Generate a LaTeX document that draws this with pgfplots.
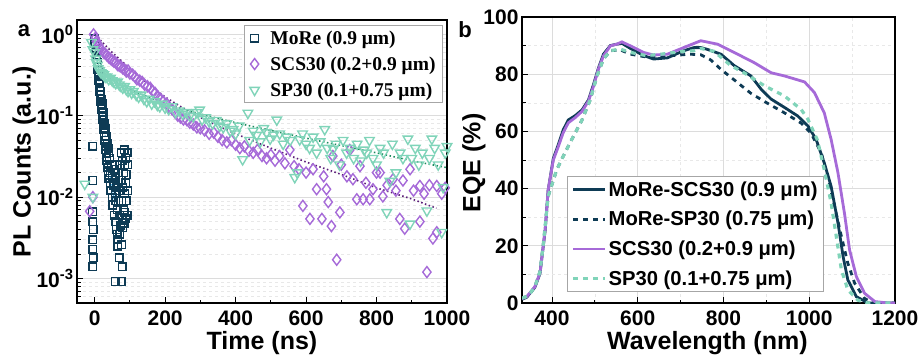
\documentclass[border=0pt]{standalone}
\usepackage{fontspec}
\setmainfont{Liberation Sans}
\newfontfamily\timesf{Liberation Serif}
\usepackage{pgfplots}
\pgfplotsset{compat=1.18}
\definecolor{navy}{HTML}{0E3B55}
\definecolor{purp}{HTML}{A66AD8}
\definecolor{teal2}{HTML}{80D4B9}
\definecolor{fitpurp}{HTML}{5A1C78}
\definecolor{fitgreen}{HTML}{1B8A5C}
\definecolor{fitblue}{HTML}{4FB3E8}
\definecolor{gridmaj}{HTML}{DCDCDC}
\definecolor{gridmin}{HTML}{E8E8E8}
\pgfplotsset{
  common/.style={
    scale only axis,
    anchor=south west,
    tick align=inside,
    tick pos=left,
    axis line style={line width=1.3pt},
    major tick style={line width=1pt, black},
    minor tick style={line width=0.8pt, black},
    major tick length=6pt,
    minor tick length=3.5pt,
    ticklabel style={font=\bfseries\fontsize{21}{21}\selectfont},
    xticklabel style={yshift=-4pt},
    /pgf/number format/assume math mode=true,
    /pgf/number format/1000 sep={},
    label style={font=\bfseries\fontsize{25}{25}\selectfont},
    major grid style={gridmaj, line width=0.8pt},
    minor grid style={gridmin, line width=0.6pt, dashed},
  }
}
\begin{document}
\begin{tikzpicture}
\useasboundingbox (0,0) rectangle (921pt,354pt);
% ---------------- panel a ----------------
\begin{axis}[common,
  at={(77pt,51pt)}, width=370pt, height=283pt,
  ymode=log, xmin=-50, xmax=1000, ymin=5e-4, ymax=1.5,
  xtick={0,200,400,600,800,1000}, minor xtick={100,300,500,700,900},
  ytick={0.001,0.01,0.1,1},
  yticklabels={10\textsuperscript{-3},10\textsuperscript{-2},10\textsuperscript{-1},10\textsuperscript{0}},
  minor ytick={0.0006,0.0007,0.0008,0.0009,0.002,0.003,0.004,0.005,0.006,0.007,0.008,0.009,0.02,0.03,0.04,0.05,0.06,0.07,0.08,0.09,0.2,0.3,0.4,0.5,0.6,0.7,0.8,0.9},
  ymajorgrids, yminorgrids,
  xlabel={Time (ns)}, ylabel={PL Counts (a.u.)},
  xlabel style={at={(axis description cs:0.5,-0.141)}, anchor=center},
  ylabel style={at={(axis description cs:-0.143,0.5)}, anchor=center},
  legend style={at={(0.989,0.982)}, anchor=north east, draw=gray!70, line width=0.8pt,
     font=\timesf\bfseries\fontsize{19.5}{21}\selectfont, row sep=7pt, inner xsep=5pt, inner ysep=3pt,
     /tikz/every odd column/.append style={column sep=9pt}},
  legend cell align=left,
]
\addplot[only marks, mark=square, mark size=3.8pt, navy, line width=1.4pt] coordinates {
(-5,0.042)(-5,0.016)(-6,0.0066)(-5,0.005)(-4,0.004)(-5,0.003)(-5,0.0023)(-4,0.0018)(-5,0.0014)
(0,0.88)(1,0.78)(2,0.72)(3,0.66)(4,0.6)(5,0.55)(6,0.5)(7,0.45)(8,0.4)(9,0.37)(10,0.33)(11,0.3)(12,0.27)(13,0.25)(14,0.22)(15,0.2)(16,0.18)(17,0.165)(18,0.15)(19,0.135)(20,0.12)(21,0.11)(22,0.1)(23,0.09)(24,0.082)(25,0.075)(26,0.068)(27,0.062)(28,0.055)(29,0.05)(30,0.046)(31,0.042)(32,0.038)(33,0.034)(34,0.031)(35,0.028)(36,0.025)(37,0.023)(38,0.021)(39,0.019)(40,0.017)
(18,0.2)(22,0.14)(26,0.09)(30,0.07)(33,0.055)(36,0.045)(38,0.04)(40,0.035)(25,0.11)(28,0.08)(20,0.16)(15,0.26)(12,0.35)
(42,0.03)(44,0.015)(45,0.02)(46,0.012)(48,0.025)(50,0.01)(50,0.018)(52,0.008)(54,0.014)(55,0.022)(56,0.006)(58,0.011)(58,0.017)(60,0.009)(60,0.005)(62,0.004)(62,0.013)(64,0.007)(64,0.0035)(65,0.02)(66,0.003)(66,0.0025)(68,0.009)(70,0.012)(72,0.006)(72,0.025)(74,0.0045)(75,0.016)(75,0.035)(76,0.009)(78,0.0055)(78,0.028)(80,0.013)(80,0.0042)(82,0.007)(82,0.02)(84,0.038)(84,0.0048)(85,0.011)(86,0.025)(86,0.0065)(88,0.015)(88,0.0055)(88,0.03)(90,0.009)(90,0.019)(92,0.035)(92,0.006)(94,0.012)(94,0.025)
(58,0.00092)(75,0.00092)(78,0.0014)(76,0.0026)(72,0.0035)(70,0.0018)
};
\addlegendentry{MoRe (0.9 μm)}
\addplot[only marks, mark=diamond, mark size=5.5pt, purp, line width=1.4pt] coordinates {
(-3,1.0)(2,0.9)(5,0.82)(8,0.78)(12,0.72)(15,0.68)(20,0.64)(25,0.6)(30,0.58)(35,0.55)(40,0.52)(45,0.5)(50,0.48)(55,0.46)(60,0.45)(65,0.42)(70,0.41)(75,0.4)(80,0.38)(85,0.37)(90,0.35)(95,0.36)(100,0.33)(108,0.32)(115,0.3)(120,0.28)(128,0.27)(135,0.26)(142,0.24)(150,0.23)(158,0.22)(165,0.2)(172,0.19)(180,0.17)(188,0.16)(195,0.15)(205,0.14)(212,0.125)(220,0.12)(228,0.11)(236,0.1)(244,0.095)(252,0.09)(262,0.088)(270,0.082)(280,0.078)(290,0.072)(300,0.07)(312,0.066)(325,0.06)(338,0.062)(350,0.055)(362,0.05)(375,0.047)(388,0.05)(400,0.044)(412,0.04)(425,0.042)(438,0.037)(450,0.035)(462,0.038)(475,0.032)(488,0.03)(500,0.033)(512,0.028)(525,0.032)(540,0.026)(554,0.038)(566,0.024)(580,0.022)(591,0.0078)(600,0.02)(611,0.0054)(620,0.022)(630,0.0125)(645,0.0054)(650,0.018)(658,0.0125)(663,0.0087)(672,0.0044)(676,0.032)(687,0.0017)(696,0.0065)(700,0.025)(716,0.018)(724,0.038)(733,0.0166)(744,0.0094)(753,0.024)(762,0.0094)(770,0.015)(781,0.0094)(790,0.0125)(800,0.02)(810,0.02)(818,0.0102)(830,0.014)(847,0.0166)(855,0.012)(866,0.0054)(875,0.016)(880,0.0041)(895,0.022)(905,0.012)(923,0.005)(923,0.0137)(935,0.011)(943,0.0012)(950,0.014)(960,0.0031)(971,0.0037)(971,0.0137)(985,0.011)(995,0.013)(-14,0.0067)(-5,0.01)
};
\addlegendentry{SCS30 (0.2+0.9 μm)}
\addplot[only marks, mark=triangle, mark size=5.5pt, teal2, line width=1.4pt, every mark/.append style={rotate=180}] coordinates {
(-9,0.8)(-5,0.65)(0,0.6)(3,0.5)(5,0.45)(8,0.42)(10,0.38)(14,0.36)(18,0.34)(22,0.33)(26,0.32)(30,0.3)(35,0.3)(40,0.28)(45,0.29)(50,0.27)(55,0.26)(60,0.25)(65,0.26)(70,0.24)(75,0.23)(80,0.22)(85,0.23)(90,0.21)(95,0.2)(100,0.21)(105,0.19)(110,0.2)(118,0.18)(125,0.17)(132,0.18)(140,0.16)(148,0.15)(155,0.16)(162,0.14)(170,0.15)(178,0.135)(185,0.13)(192,0.14)(200,0.125)(210,0.12)(220,0.13)(230,0.11)(240,0.115)(250,0.105)(260,0.11)(270,0.1)(280,0.098)(290,0.11)(298,0.118)(305,0.09)(315,0.095)(325,0.085)(335,0.08)(345,0.088)(355,0.075)(365,0.072)(375,0.08)(385,0.065)(393,0.068)(400,0.06)(410,0.075)(420,0.029)(435,0.108)(440,0.05)(450,0.065)(460,0.058)(470,0.048)(480,0.07)(488,0.062)(498,0.052)(508,0.058)(517,0.089)(525,0.06)(535,0.045)(545,0.055)(555,0.05)(568,0.0175)(575,0.02)(582,0.051)(590,0.06)(600,0.045)(610,0.04)(620,0.055)(630,0.035)(640,0.048)(653,0.068)(660,0.04)(670,0.03)(677,0.039)(685,0.045)(695,0.025)(705,0.05)(715,0.035)(725,0.04)(735,0.03)(745,0.045)(755,0.028)(765,0.038)(772,0.035)(780,0.05)(790,0.03)(800,0.025)(810,0.04)(820,0.035)(829,0.0065)(838,0.0157)(845,0.045)(855,0.02)(867,0.035)(875,0.03)(889,0.052)(895,0.0047)(900,0.03)(910,0.04)(920,0.025)(930,0.035)(943,0.0068)(950,0.03)(957,0.052)(965,0.04)(975,0.025)(985,0.0037)(989,0.0132)(995,0.035)(1000,0.042)(-28,0.0145)(-5,0.01)
};
\addlegendentry{SP30 (0.1+0.75 μm)}
% fits
\addplot[forget plot, fitblue, line width=1.6pt, dash pattern=on 1.5pt off 2pt] coordinates {(0,0.9)(10,0.33)(20,0.13)(30,0.055)(40,0.025)(50,0.013)(60,0.0075)};
\addplot[forget plot, fitpurp, line width=1.6pt, dash pattern=on 1.5pt off 2.5pt] coordinates {(0,1.0)(50,0.6)(100,0.38)(150,0.25)(200,0.17)(250,0.125)(300,0.095)(350,0.075)(400,0.06)(450,0.049)(500,0.04)(600,0.027)(700,0.019)(800,0.013)(900,0.0095)(970,0.0073)};
\addplot[forget plot, fitgreen, line width=1.6pt, dash pattern=on 1.5pt off 2.5pt] coordinates {(15,0.36)(50,0.28)(100,0.21)(200,0.14)(300,0.105)(400,0.082)(500,0.066)(600,0.053)(700,0.043)(800,0.035)(900,0.028)(1000,0.023)};
\end{axis}
% ---------------- panel b ----------------
\begin{axis}[common,
  at={(522pt,51pt)}, width=373pt, height=286pt,
  xmin=330, xmax=1200, ymin=0, ymax=100,
  xtick={400,600,800,1000,1200}, minor x tick num=1,
  ytick={0,20,40,60,80,100}, minor y tick num=1,
  grid=both,
  xlabel={Wavelength (nm)}, ylabel={EQE (\%)},
  xlabel style={at={(axis description cs:0.497,-0.14)}, anchor=center},
  ylabel style={at={(axis description cs:-0.129,0.49)}, anchor=center},
  legend style={at={(0.121,0.038)}, anchor=south west, draw=gray!70, line width=0.8pt,
     font=\bfseries\fontsize{20.2}{22}\selectfont, row sep=9.5pt, inner xsep=4pt, inner ysep=3pt},
  legend cell align=left,
  legend image code/.code={\draw[#1] (0pt,0pt) -- (32pt,0pt);},
]
\addplot[navy, line width=2.8pt] coordinates {
(330,1.3)(341,2)(360,5.5)(372,10.3)(384,25.4)(391,39.4)(403,50.5)(415,55.5)(426,60.5)(438,64)(454,65.5)(470,67.5)(485,71)(497,76.5)(508,82)(520,87)(536,90)(551,90.5)(563,90.8)(583,89)(614,86.5)(637,85.3)(669,85.7)(707,88.2)(731,89.3)(747,89.3)(762,88.7)(794,87)(825,83)(864,79.4)(888,74.7)(911,71.3)(942,68.4)(973,65.4)(997,61.9)(1016,57.2)(1035,49)(1051,40.8)(1067,28)(1079,16.2)(1090,8.1)(1110,2.2)(1137,0)(1200,0)
};
\addlegendentry{MoRe-SCS30 (0.9 μm)}
\addplot[navy, line width=2.8pt, dash pattern=on 5pt off 5pt] coordinates {
(330,1.7)(345,2.5)(360,5.7)(372,11)(380,21)(391,37.3)(411,46.6)(430,52.5)(450,58.3)(470,64)(489,71)(505,79.4)(520,85.3)(536,88.2)(559,88.5)(583,87)(620,86)(655,86.3)(690,86.6)(720,87)(747,86.8)(770,85)(794,81.7)(825,78)(864,73.3)(903,69.8)(942,66.5)(981,62.9)(1004,59.4)(1028,52.5)(1043,44.3)(1059,33.8)(1075,23.3)(1090,13.9)(1106,6.9)(1129,1.6)(1149,0)(1200,0)
};
\addlegendentry{MoRe-SP30 (0.75 μm)}
\addplot[purp, line width=2.8pt] coordinates {
(330,1.5)(341,2.2)(360,5.7)(372,10.5)(384,25.6)(391,39.6)(403,50)(415,54.8)(426,59.5)(438,63)(454,64.8)(470,67)(485,70.6)(497,75.9)(508,81.7)(520,86.4)(536,89.9)(551,90.5)(563,91.3)(583,89.9)(614,87.6)(637,86.7)(669,87)(707,89.3)(747,91.7)(786,90.5)(825,87.6)(872,84)(911,80.5)(942,79.4)(989,77.3)(1012,73.6)(1035,66.5)(1051,57.2)(1067,45.5)(1082,31.5)(1094,18.6)(1110,9.2)(1129,3.4)(1153,0.5)(1184,0)(1200,0)
};
\addlegendentry{SCS30 (0.2+0.9 μm)}
\addplot[teal2, line width=3.2pt, dash pattern=on 5pt off 5pt] coordinates {
(330,1.7)(345,2.5)(360,5.7)(372,11)(380,21)(391,37.3)(411,46.6)(430,52.5)(450,58.3)(470,64)(489,71)(505,79.4)(520,85.3)(536,88.2)(559,88.8)(583,87.6)(620,86.5)(655,87)(705,88)(731,88.2)(747,89)(778,88)(817,83)(848,80.5)(895,76)(942,72.4)(981,67.7)(997,64.2)(1019,57)(1035,46.6)(1051,35)(1063,23.3)(1075,11.6)(1090,4.6)(1113,1)(1137,0)(1200,0)
};
\addlegendentry{SP30 (0.1+0.75 μm)}
\end{axis}
\node[font=\bfseries\fontsize{22}{22}\selectfont] at (24pt,323pt) {a};
\node[font=\bfseries\fontsize{22}{22}\selectfont] at (465pt,324pt) {b};
\end{tikzpicture}
\end{document}
